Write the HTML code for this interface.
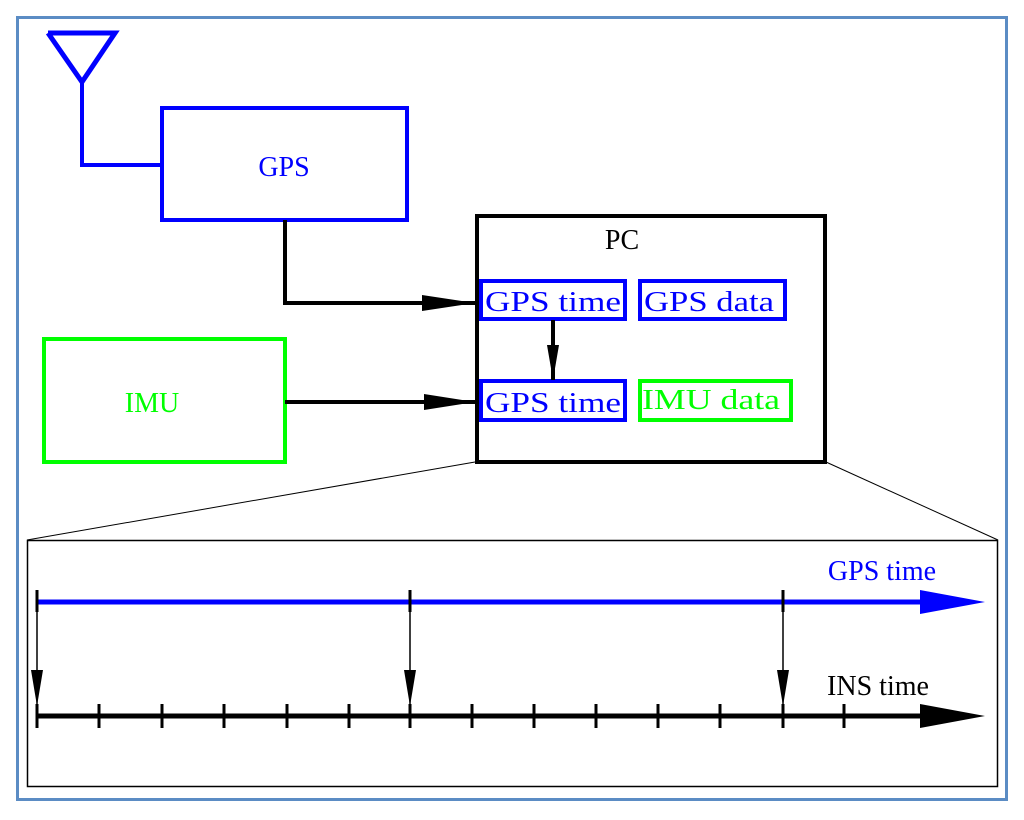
<!DOCTYPE html>
<html><head><style>body{margin:0;background:#fff}</style></head><body>
<svg width="1024" height="815" viewBox="0 0 1024 815" xmlns="http://www.w3.org/2000/svg" font-family="Liberation Serif, serif">
<defs>
<marker id="ab" markerWidth="10" markerHeight="6" refX="10" refY="3" orient="auto" markerUnits="userSpaceOnUse" viewBox="0 0 10 6"><path d="M0,0 L10,3 L0,6z" fill="#000"/></marker>
</defs>
<rect x="17.5" y="17.5" width="989" height="782" fill="none" stroke="#5b8cc4" stroke-width="3"/>
<!-- antenna -->
<polyline points="48,33 115,33 82,82 48,33" fill="none" stroke="#00f" stroke-width="5" stroke-linejoin="miter"/>
<polyline points="82,82 82,165 160,165" fill="none" stroke="#00f" stroke-width="4"/>
<rect x="162" y="108" width="245" height="112" fill="none" stroke="#00f" stroke-width="4"/>
<text x="284" y="176" font-size="28" fill="#00f" text-anchor="middle">GPS</text>
<!-- IMU -->
<rect x="44" y="339" width="241" height="123" fill="none" stroke="#0f0" stroke-width="4"/>
<text x="152" y="412" font-size="28" fill="#0f0" text-anchor="middle">IMU</text>
<!-- connectors -->
<polyline points="285,220 285,303 475,303" fill="none" stroke="#000" stroke-width="4"/>
<polygon points="422,295 475,303 422,311" fill="#000"/>
<line x1="285" y1="402" x2="475" y2="402" stroke="#000" stroke-width="4"/>
<polygon points="424,394 475,402 424,410" fill="#000"/>
<!-- PC -->
<rect x="477" y="216" width="348" height="246" fill="none" stroke="#000" stroke-width="4"/>
<text x="622" y="249" font-size="28" fill="#000" text-anchor="middle">PC</text>
<rect x="481" y="281" width="144" height="38" fill="none" stroke="#00f" stroke-width="4"/>
<text x="553" y="311" font-size="28" fill="#00f" text-anchor="middle" textLength="136" lengthAdjust="spacingAndGlyphs">GPS time</text>
<rect x="640" y="281" width="145" height="38" fill="none" stroke="#00f" stroke-width="4"/>
<text x="709" y="311" font-size="28" fill="#00f" text-anchor="middle" textLength="130" lengthAdjust="spacingAndGlyphs">GPS data</text>
<rect x="481" y="381" width="144" height="39" fill="none" stroke="#00f" stroke-width="4"/>
<text x="553" y="412" font-size="28" fill="#00f" text-anchor="middle" textLength="136" lengthAdjust="spacingAndGlyphs">GPS time</text>
<rect x="640" y="381" width="151" height="39" fill="none" stroke="#0f0" stroke-width="4"/>
<text x="711" y="409" font-size="28" fill="#0f0" text-anchor="middle" textLength="138" lengthAdjust="spacingAndGlyphs">IMU data</text>
<line x1="553" y1="320" x2="553" y2="380" stroke="#000" stroke-width="4"/>
<polygon points="547,345 553,380 559,345" fill="#000"/>
<!-- zoom lines -->
<line x1="475" y1="462" x2="27" y2="540" stroke="#000" stroke-width="1"/>
<line x1="826" y1="462" x2="998" y2="540" stroke="#000" stroke-width="1"/>
<rect x="27.5" y="540.5" width="970" height="246" fill="none" stroke="#000" stroke-width="1.5"/>
<!-- GPS timeline -->
<line x1="37" y1="602" x2="925" y2="602" stroke="#00f" stroke-width="5"/>
<polygon points="920,590 985,602 920,614" fill="#00f"/>
<text x="882" y="580" font-size="28" fill="#00f" text-anchor="middle">GPS time</text>
<text x="878" y="695" font-size="28" fill="#000" text-anchor="middle">INS time</text>
<line x1="37" y1="716" x2="925" y2="716" stroke="#000" stroke-width="5"/>
<polygon points="920,704 985,716 920,728" fill="#000"/>
<g stroke="#000" stroke-width="3">
<line x1="37" y1="590" x2="37" y2="612"/><line x1="410" y1="590" x2="410" y2="612"/><line x1="783" y1="590" x2="783" y2="612"/>
<line x1="37" y1="704" x2="37" y2="728"/><line x1="99" y1="704" x2="99" y2="728"/><line x1="162" y1="704" x2="162" y2="728"/><line x1="224" y1="704" x2="224" y2="728"/><line x1="287" y1="704" x2="287" y2="728"/><line x1="349" y1="704" x2="349" y2="728"/><line x1="410" y1="704" x2="410" y2="728"/><line x1="472" y1="704" x2="472" y2="728"/><line x1="534" y1="704" x2="534" y2="728"/><line x1="596" y1="704" x2="596" y2="728"/><line x1="658" y1="704" x2="658" y2="728"/><line x1="720" y1="704" x2="720" y2="728"/><line x1="783" y1="704" x2="783" y2="728"/><line x1="844" y1="704" x2="844" y2="728"/>
</g>
<g stroke="#000" stroke-width="1.5">
<line x1="37" y1="602" x2="37" y2="706"/><line x1="410" y1="602" x2="410" y2="706"/><line x1="783" y1="602" x2="783" y2="706"/>
</g>
<polygon points="31,670 37,706 43,670" fill="#000"/>
<polygon points="404,670 410,706 416,670" fill="#000"/>
<polygon points="777,670 783,706 789,670" fill="#000"/>
</svg>
</body></html>
